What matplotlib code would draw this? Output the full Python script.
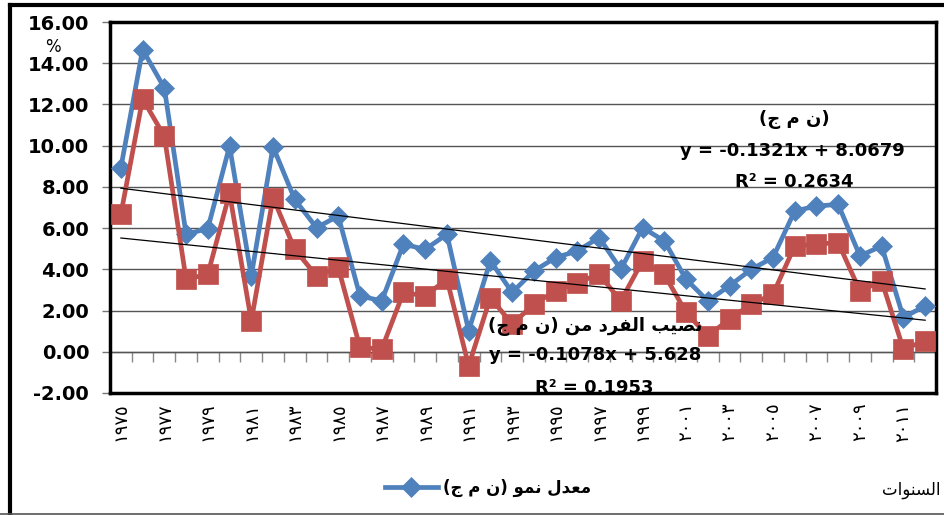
import numpy as np
import matplotlib
matplotlib.use('Agg')
from matplotlib import pyplot as plt
from matplotlib.lines import Line2D


years = list(range(1975, 2013))

# معدل نمو (ن م ج) %
gdp_growth = [8.93, 14.66, 12.80, 5.70, 5.98, 9.98, 3.68, 9.95, 7.39, 6.02,
              6.59, 2.71, 2.47, 5.22, 4.97, 5.70, 1.02, 4.41, 2.88, 3.92,
              4.57, 4.89, 5.54, 4.00, 6.02, 5.38, 3.52, 2.47, 3.20, 4.00,
              4.57, 6.83, 7.07, 7.15, 4.65, 5.13, 1.66, 2.23]

# نصيب الفرد من (ن م ج) %
per_capita = [6.67, 12.27, 10.46, 3.52, 3.76, 7.69, 1.50, 7.48, 4.97, 3.68,
              4.09, 0.21, 0.13, 2.88, 2.71, 3.52, -0.68, 2.63, 1.34, 2.31,
              2.95, 3.36, 3.76, 2.47, 4.41, 3.76, 1.91, 0.77, 1.58, 2.31,
              2.79, 5.13, 5.22, 5.30, 2.95, 3.44, 0.13, 0.53]

# linear trend fits (x = 1, 2, ... over the years)
gdp_trend = (-0.1321, 8.0679, 0.2634)
cap_trend = (-0.1078, 5.628, 0.1953)

label_years = years[::2]
yticks = list(range(-2, 17, 2))


# minimal arabic shaping: presentation forms (isolated, final, initial, medial)
FORMS = {
    'ا': ('\uFE8D', '\uFE8E', None, None),
    'ب': ('\uFE8F', '\uFE90', '\uFE91', '\uFE92'),
    'ت': ('\uFE95', '\uFE96', '\uFE97', '\uFE98'),
    'ج': ('\uFE9D', '\uFE9E', '\uFE9F', '\uFEA0'),
    'د': ('\uFEA9', '\uFEAA', None, None),
    'ر': ('\uFEAD', '\uFEAE', None, None),
    'س': ('\uFEB1', '\uFEB2', '\uFEB3', '\uFEB4'),
    'ص': ('\uFEB9', '\uFEBA', '\uFEBB', '\uFEBC'),
    'ع': ('\uFEC9', '\uFECA', '\uFECB', '\uFECC'),
    'ف': ('\uFED1', '\uFED2', '\uFED3', '\uFED4'),
    'ل': ('\uFEDD', '\uFEDE', '\uFEDF', '\uFEE0'),
    'م': ('\uFEE1', '\uFEE2', '\uFEE3', '\uFEE4'),
    'ن': ('\uFEE5', '\uFEE6', '\uFEE7', '\uFEE8'),
    'و': ('\uFEED', '\uFEEE', None, None),
    'ي': ('\uFEF1', '\uFEF2', '\uFEF3', '\uFEF4'),
}


def ar(text):
    out = []
    for i, ch in enumerate(text):
        if ch not in FORMS:
            out.append(ch)
            continue
        prev = text[i - 1] if i > 0 else ''
        nxt = text[i + 1] if i < len(text) - 1 else ''
        a = prev in FORMS and FORMS[prev][2] is not None
        b = nxt in FORMS and FORMS[ch][2] is not None
        idx = {(False, False): 0, (True, False): 1, (False, True): 2, (True, True): 3}[(a, b)]
        out.append(FORMS[ch][idx])
    vis = ''.join(reversed(out))
    return vis.translate(str.maketrans('()', ')('))


def arabic_digits(n):
    return ''.join(chr(0x0660 + int(d)) for d in str(n))


plt.rcParams['font.family'] = ['DejaVu Sans']

fig = plt.figure(figsize=(9.45, 5.15), dpi=100)
W, H = 945, 515
ax = fig.add_axes([110 / W, 1 - 393 / H, (936 - 110) / W, (393 - 22) / H])

blue = '#4F81BD'
red = '#C0504D'

l1, = ax.plot(years, gdp_growth, color=blue, lw=3.4, marker='D', ms=10,
              mec=blue, mew=0.5, zorder=3)
ax.plot(years, per_capita, color=red, lw=3.4, marker='s', ms=14,
        mec=red, mew=0.5, zorder=4)

idx = np.arange(1, len(years) + 1)
for m, c, _ in (gdp_trend, cap_trend):
    ax.plot(years, m * idx + c, color='black', lw=0.9, zorder=5)

ax.set_xlim(years[0] - 0.5, years[-1] + 0.5)
ax.set_ylim(yticks[0], yticks[-1])
ax.set_yticks(yticks)
ax.set_yticklabels([f'{v:.2f}' for v in yticks], fontsize=14, fontweight='bold')
ax.tick_params(axis='y', length=6, width=1, color='#777', pad=9)
ax.yaxis.grid(True, color='#555', lw=1)
ax.set_axisbelow(True)

ax.set_xticks(label_years)
ax.set_xticklabels([arabic_digits(y) for y in label_years], rotation=90,
                   fontsize=13)
ax.tick_params(axis='x', length=0, pad=7)

# category axis crossing at zero
sec = ax.secondary_xaxis(2 / 18)
sec.set_xticks(np.array(years[:-1]) + 0.5)
sec.set_xticklabels([])
sec.tick_params(length=7, width=1, color='#888', direction='out')
sec.spines['bottom'].set_color('#666')
sec.spines['bottom'].set_linewidth(1)

for s in ax.spines.values():
    s.set_linewidth(2.5)
    s.set_color('black')

# trend line captions
tkw = dict(ha='center', va='center', fontsize=13, fontweight='bold', zorder=6)
m, c, r2 = gdp_trend
ax.text(2006.0, 11.25, ar('(ن م ج)'), **tkw)
ax.text(2005.9, 9.75, f'y = {m}x + {c}', **tkw)
ax.text(2006.0, 8.25, f'R² = {r2}', **tkw)
m, c, r2 = cap_trend
ax.text(1996.8, 1.25, ar('نصيب الفرد من (ن م ج)'), **tkw)
ax.text(1996.8, -0.15, f'y = {m}x + {c}', **tkw)
ax.text(1996.8, -1.75, f'R² = {r2}', clip_on=True, **tkw)

fig.text(53 / W, 1 - 47 / H, '%', ha='center', va='center', fontsize=12)

fig.legend([l1], [ar('معدل نمو (ن م ج)')], loc='center',
           bbox_to_anchor=(488 / W, 1 - 488 / H), frameon=False,
           handlelength=3.2, handletextpad=0.3,
           prop={'size': 12, 'weight': 'bold'})
fig.text(941 / W, 1 - 490 / H, ar('السنوات'), ha='right', va='center',
         fontsize=12)

# outer frame
fig.add_artist(Line2D([10 / W, 10 / W], [0, 1 - 5 / H], color='black', lw=3,
                      transform=fig.transFigure))
fig.add_artist(Line2D([10 / W, 1], [1 - 5 / H, 1 - 5 / H], color='black', lw=3,
                      transform=fig.transFigure))
fig.add_artist(Line2D([0, 1], [1.5 / H, 1.5 / H], color='#555', lw=1.2,
                      transform=fig.transFigure))

fig.savefig('out.png', dpi=100)
